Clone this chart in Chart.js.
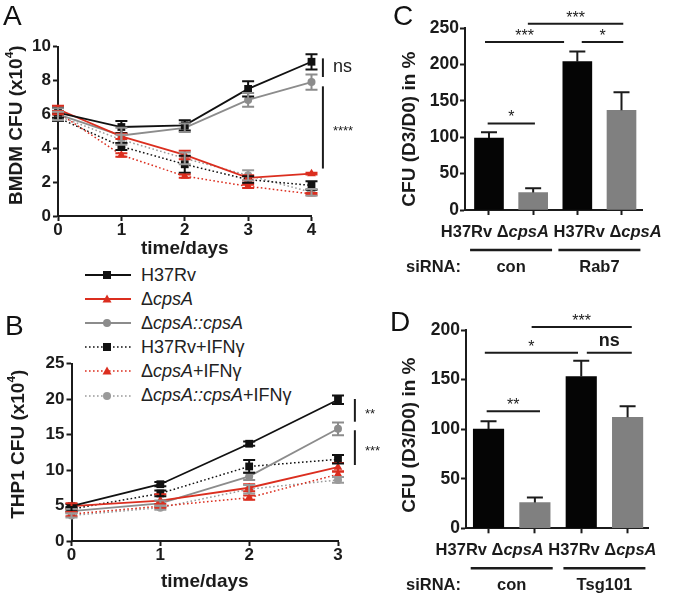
<!DOCTYPE html>
<html lang="en">
<head>
<meta charset="UTF-8">
<title>cpsA survival in macrophages</title>
<script src="https://cdn.jsdelivr.net/npm/chart.js@4"></script>
<style>
  body { margin: 0; background: #fff; font-family: "Liberation Sans", Arial, Helvetica, sans-serif; }
  #page { position: relative; width: 677px; height: 597px; overflow: hidden; background: #fff; }
  canvas { position: absolute; z-index: 2; }
  .letter { position: absolute; font-size: 28px; line-height: 1; color: #111; z-index: 3; }
  #legend { position: absolute; left: 85px; top: 265px; width: 260px; height: 150px; z-index: 1; }
  .lg-row { position: absolute; left: 0; height: 20px; display: flex; align-items: center; white-space: nowrap; }
  .lg-row svg { width: 46px; height: 12px; margin-right: 10px; }
  .lg-row span { font-size: 18px; color: #222; }
</style>
</head>
<body>
<div id="page">
  <div id="legend"></div>
  <canvas id="chartA" width="360" height="262" style="left:0;top:0"></canvas>
  <canvas id="chartB" width="400" height="297" style="left:0;top:300px"></canvas>
  <canvas id="chartC" width="317" height="290" style="left:360px;top:0"></canvas>
  <canvas id="chartD" width="317" height="297" style="left:360px;top:300px"></canvas>
  <div class="letter" style="left:3px;top:2px">A</div>
  <div class="letter" style="left:5px;top:312px">B</div>
  <div class="letter" style="left:393px;top:2px">C</div>
  <div class="letter" style="left:390px;top:308px">D</div>
</div>
<script>
// ---- data ----
const seriesNames = ['H37Rv', 'ΔcpsA', 'ΔcpsA::cpsA', 'H37Rv+IFNγ', 'ΔcpsA+IFNγ', 'ΔcpsA::cpsA+IFNγ'];

// A: BMDM CFU (x10^4)
const bmdmDays = [0, 1, 2, 3, 4];
const bmdmYTicks = [0, 2, 4, 6, 8, 10];
const bmdmH37Rv = [6.1, 5.25, 5.35, 7.5, 9.1];
const bmdmCpsA = [6.3, 4.7, 3.6, 2.25, 2.5];
const bmdmComp = [6.0, 4.75, 5.2, 6.85, 7.9];
const bmdmH37RvIfn = [5.8, 4.1, 3.05, 2.15, 1.8];
const bmdmCpsAIfn = [6.1, 3.6, 2.35, 1.75, 1.3];
const bmdmCompIfn = [5.9, 4.5, 3.4, 2.4, 1.4];
const bmdmH37RvErr = [0.3, 0.35, 0.3, 0.45, 0.45];
const bmdmCpsAErr = [0.2, 0.15, 0.25, 0.15, 0.05];
const bmdmCompErr = [0.35, 0.45, 0.25, 0.4, 0.45];
const bmdmH37RvIfnErr = [0.2, 0.2, 0.5, 0.2, 0.25];
const bmdmCpsAIfnErr = [0.1, 0.1, 0.1, 0.1, 0.05];
const bmdmCompIfnErr = [0.25, 0.3, 0.35, 0.3, 0.2];

// B: THP1 CFU (x10^4)
const thp1Days = [0, 1, 2, 3];
const thp1YTicks = [0, 5, 10, 15, 20, 25];
const thp1H37Rv = [4.9, 8.0, 13.7, 19.9];
const thp1CpsA = [4.9, 5.7, 7.5, 10.4];
const thp1Comp = [4.2, 5.3, 9.1, 15.8];
const thp1H37RvIfn = [4.5, 6.7, 10.5, 11.5];
const thp1CpsAIfn = [3.8, 4.9, 6.1, 9.4];
const thp1CompIfn = [3.6, 4.7, 7.3, 8.6];
const thp1H37RvErr = [0.3, 0.3, 0.3, 0.6];
const thp1CpsAErr = [0.4, 0.9, 0.5, 0.6];
const thp1CompErr = [0.3, 0.4, 0.5, 0.9];
const thp1H37RvIfnErr = [0.3, 0.4, 0.9, 0.6];
const thp1CpsAIfnErr = [0.3, 0.3, 0.3, 0.4];
const thp1CompIfnErr = [0.3, 0.3, 0.6, 0.4];

// C / D: CFU (D3/D0) in %
const barCategories = ['H37Rv', 'ΔcpsA', 'H37Rv', 'ΔcpsA'];
const rab7Values = [99, 24, 204, 137];
const rab7Errors = [8, 6, 14, 25];
const rab7Groups = [{ label: 'con', from: 0, to: 1 }, { label: 'Rab7', from: 2, to: 3 }];
const tsgValues = [100, 26, 153, 112];
const tsgErrors = [8, 5, 16, 11];
const tsgGroups = [{ label: 'con', from: 0, to: 1 }, { label: 'Tsg101', from: 2, to: 3 }];

// significance marks (value units)
const sigA = [{ x: 4.18, from: 9.3, to: 8.2, label: 'ns' }, { x: 4.18, from: 7.65, to: 2.8, label: '****' }];
const sigB = [{ x: 3.19, from: 20.0, to: 16.8, label: '**' }, { x: 3.19, from: 15.6, to: 10.7, label: '***' }];
const sigC = [
  { from: -0.03, to: 1.04, y: 119, label: '*' },
  { from: -0.09, to: 1.7, y: 231, label: '***' },
  { from: 2.1, to: 3.04, y: 231, label: '*' },
  { from: 0.88, to: 3.04, y: 256, label: '***' }
];
const sigD = [
  { from: -0.04, to: 1.11, y: 118, label: '**' },
  { from: -0.08, to: 1.93, y: 177, label: '*' },
  { from: 2.12, to: 3.09, y: 177, label: 'ns' },
  { from: 0.93, to: 3.09, y: 203, label: '***' }
];

// ---- styles ----
const FONT = '"Liberation Sans", Arial, Helvetica, sans-serif';
const INK = '#1b1b1b';
const RED = '#db2e1f';
const seriesStyle = [
  { color: '#111111', dash: false, point: 'rect', r: 5.5 },
  { color: RED, dash: false, point: 'triangle', r: 5 },
  { color: '#8c8c8c', dash: false, point: 'circle', r: 4 },
  { color: '#111111', dash: true, point: 'rect', r: 5.5 },
  { color: RED, dash: true, point: 'triangle', r: 5 },
  { color: '#9a9a9a', dash: true, point: 'circle', r: 4 }
];
const barColors = ['#050505', '#808080', '#050505', '#808080'];

Chart.defaults.font.family = FONT;
Chart.defaults.color = INK;

// split a label into italic / superscript pieces
function richParts(label) {
  const parts = [];
  label.split(/(cpsA(?:::cpsA)?|\^\d)/).forEach(t => {
    if (!t) return;
    if (t[0] === '^') parts.push({ t: t.slice(1), sup: true });
    else parts.push({ t: t, it: /^cpsA/.test(t) });
  });
  return parts;
}

function drawRich(ctx, parts, x, y, size, align, bold) {
  const fontOf = p => (p.it ? 'italic ' : '') + (bold ? 'bold ' : '') + (p.sup ? size * 0.62 : size) + 'px ' + FONT;
  let w = 0;
  parts.forEach(p => { ctx.font = fontOf(p); w += ctx.measureText(p.t).width; });
  let cx = align === 'center' ? x - w / 2 : align === 'right' ? x - w : x;
  ctx.textAlign = 'left';
  parts.forEach(p => {
    ctx.font = fontOf(p);
    ctx.fillText(p.t, cx, p.sup ? y - size * 0.36 : y);
    cx += ctx.measureText(p.t).width;
  });
}

const errorBarPlugin = {
  id: 'errorBars',
  afterDatasetsDraw(chart) {
    const ctx = chart.ctx, ys = chart.scales.y;
    chart.data.datasets.forEach((ds, i) => {
      if (!ds.errors) return;
      const meta = chart.getDatasetMeta(i);
      ctx.save();
      ctx.setLineDash([]);
      ctx.strokeStyle = ds.errorColor || ds.borderColor;
      ctx.lineWidth = 2;
      meta.data.forEach((el, j) => {
        const v = ds.data[j].y, e = ds.errors[j];
        if (!e) return;
        const hi = ys.getPixelForValue(v + e);
        const lo = ys.getPixelForValue(ds.upperOnly ? v : v - e);
        const half = ds.capHalf;
        ctx.beginPath();
        ctx.moveTo(el.x, lo); ctx.lineTo(el.x, hi);
        ctx.moveTo(el.x - half, hi); ctx.lineTo(el.x + half, hi);
        if (!ds.upperOnly) { ctx.moveTo(el.x - half, lo); ctx.lineTo(el.x + half, lo); }
        ctx.stroke();
      });
      ctx.restore();
    });
  }
};

function sigPlugin(list, nsBold) {
  return {
    id: 'sig',
    afterDraw(chart) {
      const { ctx, scales: { x, y } } = chart;
      ctx.save();
      ctx.setLineDash([]);
      ctx.strokeStyle = INK; ctx.fillStyle = INK; ctx.lineWidth = 2;
      ctx.textBaseline = 'alphabetic';
      list.forEach(b => {
        const isNs = b.label === 'ns';
        const size = isNs ? 18 : (b.y === undefined ? 13 : 16);
        ctx.font = (isNs && nsBold ? 'bold ' : '') + size + 'px ' + FONT;
        if (b.y === undefined) {
          const px = x.getPixelForValue(b.x), y1 = y.getPixelForValue(b.from), y2 = y.getPixelForValue(b.to);
          ctx.beginPath(); ctx.moveTo(px, y1); ctx.lineTo(px, y2); ctx.stroke();
          const cy = (y1 + y2) / 2;
          ctx.textAlign = 'left';
          ctx.fillText(b.label, px + 10, isNs ? cy + size * 0.26 : cy + size * 0.57);
        } else {
          const py = y.getPixelForValue(b.y), x1 = x.getPixelForValue(b.from), x2 = x.getPixelForValue(b.to);
          ctx.beginPath(); ctx.moveTo(x1, py); ctx.lineTo(x2, py); ctx.stroke();
          ctx.textAlign = 'center';
          ctx.fillText(b.label, (x1 + x2) / 2, isNs ? py - 7 : py - 1);
        }
      });
      ctx.restore();
    }
  };
}

function titlePlugin(xTitle, yTitle, cfg) {
  return {
    id: 'titles',
    afterDraw(chart) {
      const { ctx, chartArea: a } = chart;
      ctx.save();
      ctx.fillStyle = INK;
      ctx.textBaseline = 'middle';
      if (xTitle) drawRich(ctx, richParts(xTitle), (a.left + a.right) / 2, a.bottom + cfg.xGap, 19, 'center', true);
      ctx.translate(cfg.yX, (a.top + a.bottom) / 2 + cfg.yShift);
      ctx.rotate(-Math.PI / 2);
      drawRich(ctx, richParts(yTitle), 0, 0, 19, 'center', true);
      ctx.restore();
    }
  };
}

function axisStyle(size) {
  return {
    grid: { drawOnChartArea: false, drawTicks: true, tickLength: 5, tickWidth: 2, tickColor: INK },
    border: { display: true, color: INK, width: 2 },
    font: { size: size, weight: 'bold', lineHeight: 1 }
  };
}

function makeLineChart(id, days, means, errs, box, yTicks, yTitle, cfg, sig) {
  const cv = document.getElementById(id);
  const W = cv.width, H = cv.height;
  const st = axisStyle(17);
  return new Chart(cv, {
    type: 'line',
    data: {
      datasets: means.map((m, i) => {
        const s = seriesStyle[i];
        return {
          label: seriesNames[i],
          data: days.map((d, j) => ({ x: d, y: m[j] })),
          errors: errs[i],
          capHalf: 6,
          borderColor: s.color,
          backgroundColor: s.color,
          borderWidth: s.dash ? 1.5 : 1.8,
          borderDash: s.dash ? [1.6, 2.4] : [],
          pointStyle: s.point,
          pointRadius: s.r,
          pointBorderWidth: 0,
          pointBackgroundColor: s.color,
          tension: 0,
          clip: false
        };
      })
    },
    options: {
      responsive: false, animation: false, events: [],
      layout: { padding: { left: 0, top: box.top, right: W - box.right, bottom: 0 } },
      plugins: { legend: { display: false }, tooltip: { enabled: false } },
      scales: {
        x: {
          type: 'linear', min: days[0], max: days[days.length - 1],
          ticks: { stepSize: 1, padding: 1, font: st.font, color: INK },
          grid: st.grid, border: st.border,
          afterFit: s => { s.height = H - box.bottom; }
        },
        y: {
          min: yTicks[0], max: yTicks[yTicks.length - 1],
          afterBuildTicks: s => { s.ticks = yTicks.map(v => ({ value: v })); },
          ticks: { autoSkip: false, padding: 2, font: st.font, color: INK },
          grid: st.grid, border: st.border,
          afterFit: s => { s.width = box.left; }
        }
      }
    },
    plugins: [errorBarPlugin, sigPlugin(sig, false), titlePlugin('time/days', yTitle, cfg)]
  });
}

function categoryPlugin(cats, groups, cfg) {
  return {
    id: 'cats',
    afterDraw(chart) {
      const { ctx, chartArea: a, scales: { x } } = chart;
      const px = i => x.getPixelForValue(i);
      ctx.save();
      ctx.fillStyle = INK; ctx.strokeStyle = INK;
      ctx.textBaseline = 'middle';
      const parts = [];
      cats.forEach((c, i) => { if (i) parts.push({ t: ' ' }); parts.push(...richParts(c)); });
      drawRich(ctx, parts, (px(0) + px(cats.length - 1)) / 2 + cfg.catShift, a.bottom + 22, 16.5, 'center', true);
      ctx.lineWidth = 2.5;
      groups.forEach(g => {
        const mid = (px(g.from) + px(g.to)) / 2;
        ctx.beginPath(); ctx.moveTo(mid - 41, a.bottom + 40); ctx.lineTo(mid + 41, a.bottom + 40); ctx.stroke();
        drawRich(ctx, [{ t: g.label }], mid, a.bottom + 57, 16.5, 'center', true);
      });
      drawRich(ctx, [{ t: 'siRNA:' }], cfg.siX, a.bottom + 57, 16.5, 'right', true);
      ctx.restore();
    }
  };
}

function makeBarChart(id, values, errs, groups, box, xRange, yMax, yStep, barW, sig, cfg) {
  const cv = document.getElementById(id);
  const W = cv.width, H = cv.height;
  const st = axisStyle(17.5);
  return new Chart(cv, {
    type: 'bar',
    data: {
      datasets: [{
        data: values.map((v, i) => ({ x: i, y: v })),
        errors: errs, upperOnly: true, errorColor: INK, capHalf: 8,
        backgroundColor: barColors,
        borderWidth: 0,
        barThickness: barW
      }]
    },
    options: {
      responsive: false, animation: false, events: [],
      layout: { padding: { left: 0, top: box.top, right: W - box.right, bottom: 0 } },
      plugins: { legend: { display: false }, tooltip: { enabled: false } },
      scales: {
        x: {
          type: 'linear', min: xRange[0], max: xRange[1], offset: false,
          afterBuildTicks: s => { s.ticks = barCategories.map((c, i) => ({ value: i })); },
          ticks: { display: false },
          grid: Object.assign({ offset: false }, st.grid), border: st.border,
          afterFit: s => { s.height = H - box.bottom; }
        },
        y: {
          min: 0, max: yMax,
          ticks: { stepSize: yStep, padding: 1, font: st.font, color: INK },
          grid: st.grid, border: st.border,
          afterFit: s => { s.width = box.left; }
        }
      }
    },
    plugins: [errorBarPlugin, sigPlugin(sig, true), categoryPlugin(barCategories, groups, cfg),
      titlePlugin(null, 'CFU (D3/D0) in %', cfg)]
  });
}

makeLineChart('chartA', bmdmDays,
  [bmdmH37Rv, bmdmCpsA, bmdmComp, bmdmH37RvIfn, bmdmCpsAIfn, bmdmCompIfn],
  [bmdmH37RvErr, bmdmCpsAErr, bmdmCompErr, bmdmH37RvIfnErr, bmdmCpsAIfnErr, bmdmCompIfnErr],
  { left: 58, right: 311.5, top: 46.5, bottom: 216 }, bmdmYTicks, 'BMDM CFU (x10^4)',
  { xGap: 33, yX: 17, yShift: -6 }, sigA);

makeLineChart('chartB', thp1Days,
  [thp1H37Rv, thp1CpsA, thp1Comp, thp1H37RvIfn, thp1CpsAIfn, thp1CompIfn],
  [thp1H37RvErr, thp1CpsAErr, thp1CompErr, thp1H37RvIfnErr, thp1CpsAIfnErr, thp1CompIfnErr],
  { left: 71.5, right: 338, top: 63.5, bottom: 241 }, thp1YTicks, 'THP1 CFU (x10^4)',
  { xGap: 41, yX: 18.5, yShift: -8 }, sigB);

makeBarChart('chartC', rab7Values, rab7Errors, rab7Groups,
  { left: 105, right: 282, top: 28.2, bottom: 210 }, [-0.543, 3.464], 250, 50, 29, sigC,
  { catShift: -4, siX: 101, yX: 50, yShift: 10 });

makeBarChart('chartD', tsgValues, tsgErrors, tsgGroups,
  { left: 106, right: 288, top: 30, bottom: 228.3 }, [-0.486, 3.44], 200, 50, 30.5, sigD,
  { catShift: -12, siX: 101, yX: 50, yShift: 6 });

// shared legend
function richHtml(label) {
  return richParts(label).map(p => p.it ? '<i>' + p.t + '</i>' : p.t).join('');
}
const legend = document.getElementById('legend');
seriesNames.forEach((n, i) => {
  const s = seriesStyle[i];
  const marker = s.point === 'rect'
    ? `<rect x="18" y="2" width="8" height="8" fill="${s.color}"/>`
    : s.point === 'triangle'
      ? `<polygon points="22,1.5 26.5,9.5 17.5,9.5" fill="${s.color}"/>`
      : `<circle cx="22" cy="6" r="4" fill="${s.color}"/>`;
  const row = document.createElement('div');
  row.className = 'lg-row';
  row.style.top = (i * 24.1) + 'px';
  row.innerHTML = `<svg viewBox="0 0 46 12"><line x1="0" y1="6" x2="46" y2="6" stroke="${s.color}" stroke-width="${s.dash ? 1.5 : 1.8}"${s.dash ? ' stroke-dasharray="1.6 2.4"' : ''}/>${marker}</svg><span>${richHtml(n)}</span>`;
  legend.appendChild(row);
});
</script>
</body>
</html>
